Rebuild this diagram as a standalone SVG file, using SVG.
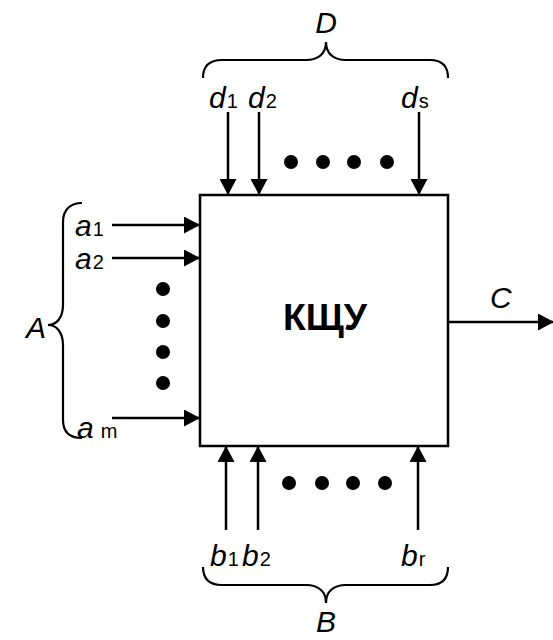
<svg xmlns="http://www.w3.org/2000/svg" width="553" height="640" viewBox="0 0 553 640">
<style>
.ln{stroke:#000;stroke-width:2.5;fill:none}
.br{stroke:#000;stroke-width:2.2;fill:none}
.t{font-family:"Liberation Sans",Arial,sans-serif;font-style:italic;font-size:30px;fill:#000}
.s{font-family:"Liberation Sans",Arial,sans-serif;font-style:normal;font-size:20px;fill:#000}
.dot{fill:#000}
</style>
<defs>
<marker id="ah" markerWidth="16" markerHeight="17" refX="15" refY="8.5" orient="auto" markerUnits="userSpaceOnUse">
<path d="M0,0 L16,8.5 L0,17 Z" fill="#000"/>
</marker>
</defs>
<g id="box">
<rect x="200" y="195" width="248" height="251" fill="#fff" stroke="#000" stroke-width="2.5"/>
<text x="325" y="330" text-anchor="middle" font-family="Liberation Sans,Arial,sans-serif" font-weight="bold" font-size="36" textLength="84" lengthAdjust="spacingAndGlyphs">КЩУ</text>
</g>
<g id="connectors">
<line class="ln" x1="228" y1="112" x2="228" y2="194" marker-end="url(#ah)"/>
<line class="ln" x1="259" y1="112" x2="259" y2="194" marker-end="url(#ah)"/>
<line class="ln" x1="419" y1="112" x2="419" y2="194" marker-end="url(#ah)"/>
<line class="ln" x1="112" y1="225" x2="199" y2="225" marker-end="url(#ah)"/>
<line class="ln" x1="112" y1="258" x2="199" y2="258" marker-end="url(#ah)"/>
<line class="ln" x1="112" y1="418" x2="199" y2="418" marker-end="url(#ah)"/>
<line class="ln" x1="226" y1="530" x2="226" y2="447" marker-end="url(#ah)"/>
<line class="ln" x1="258" y1="530" x2="258" y2="447" marker-end="url(#ah)"/>
<line class="ln" x1="418" y1="530" x2="418" y2="447" marker-end="url(#ah)"/>
<line class="ln" x1="449" y1="322" x2="553" y2="322" marker-end="url(#ah)"/>
</g>
<g id="D">
<path class="br" d="M203,78 C203,66 210,60 222,60 L306,60 C318,60 326,54 326,42 C326,54 334,60 346,60 L430,60 C442,60 448,66 448,78"/>
<text class="t" x="326" y="33" text-anchor="middle">D</text>
<text class="t" x="209" y="108">d<tspan class="s" dx="1">1</tspan></text>
<text class="t" x="248" y="108">d<tspan class="s" dx="1">2</tspan></text>
<text class="t" x="401" y="108">d<tspan class="s" dx="1">s</tspan></text>
<circle class="dot" cx="291" cy="162" r="7"/>
<circle class="dot" cx="323" cy="162" r="7"/>
<circle class="dot" cx="354" cy="162" r="7"/>
<circle class="dot" cx="387" cy="162" r="7"/>
</g>
<g id="A">
<path class="br" d="M82,203 C70,203 63,210 63,222 L63,305 C63,317 57,325 48,325 C57,325 63,333 63,345 L63,420 C63,432 70,438 82,438"/>
<text class="t" x="26" y="338">A</text>
<text class="t" x="75" y="236">a<tspan class="s" dx="1">1</tspan></text>
<text class="t" x="75" y="269">a<tspan class="s" dx="1">2</tspan></text>
<text class="t" x="77" y="438">a<tspan class="s" dx="7">m</tspan></text>
<circle class="dot" cx="163" cy="289" r="7"/>
<circle class="dot" cx="163" cy="321" r="7"/>
<circle class="dot" cx="163" cy="352" r="7"/>
<circle class="dot" cx="163" cy="383" r="7"/>
</g>
<g id="B">
<path class="br" d="M203,567 C203,579 210,585 222,585 L306,585 C318,585 326,591 326,603 C326,591 334,585 346,585 L430,585 C442,585 448,579 448,567"/>
<text class="t" x="326" y="632" text-anchor="middle">B</text>
<text class="t" x="210" y="566">b<tspan class="s" dx="1">1</tspan></text>
<text class="t" x="242" y="566">b<tspan class="s" dx="1">2</tspan></text>
<text class="t" x="401" y="566">b<tspan class="s" dx="1">r</tspan></text>
<circle class="dot" cx="289" cy="483" r="7"/>
<circle class="dot" cx="322" cy="483" r="7"/>
<circle class="dot" cx="353" cy="483" r="7"/>
<circle class="dot" cx="385" cy="483" r="7"/>
</g>
<g id="C">
<text class="t" x="490" y="308">C</text>
</g>
</svg>
